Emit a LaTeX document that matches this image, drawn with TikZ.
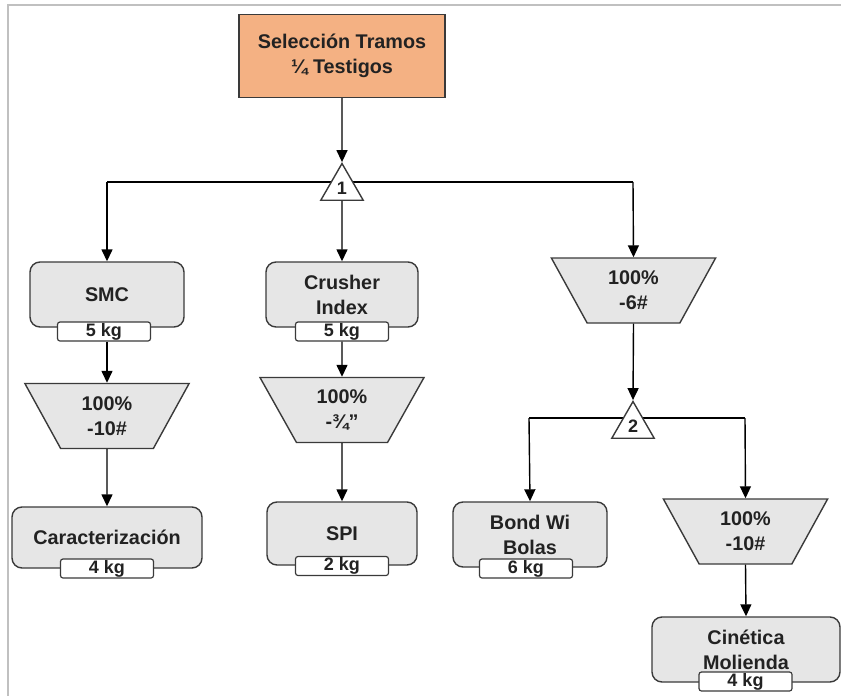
\documentclass[tikz,border=0pt]{standalone}
\usepackage{fontspec}
\setmainfont{Liberation Sans}
\usetikzlibrary{arrows.meta,shapes.geometric,backgrounds}
\definecolor{boxfill}{HTML}{E6E6E6}
\definecolor{boxline}{HTML}{3A3A3A}
\definecolor{headfill}{HTML}{F4B183}
\definecolor{inktext}{HTML}{222222}
\definecolor{framegray}{HTML}{C0C0C0}
\tikzset{
  txt/.style={font=\fontsize{19.8}{25}\selectfont\bfseries, text=inktext, align=center},
  headbox/.style={txt, draw=boxline, line width=1.4pt, fill=headfill,
    minimum width=206pt, minimum height=83pt, inner sep=0pt},
  testbox/.style={txt, draw=boxline, line width=1.4pt, fill=boxfill,
    rounded corners=10pt, minimum height=65pt, inner sep=0pt},
  massbox/.style={draw=boxline, line width=1.2pt, fill=white, rounded corners=2.5pt,
    minimum width=93pt, minimum height=19pt, inner sep=0pt,
    font=\fontsize{18}{18}\selectfont\bfseries, text=inktext},
  sieve/.style={txt, draw=boxline, line width=1.4pt, fill=boxfill, trapezium,
    shape border rotate=180, trapezium left angle=63.4, trapezium right angle=63.4,
    trapezium stretches=true, minimum width=165pt, minimum height=65pt, inner sep=0pt},
  splitter/.style={draw=boxline, line width=1.4pt, fill=white, regular polygon,
    regular polygon sides=3, minimum size=49pt, inner sep=0pt,
    font=\fontsize{18}{18}\selectfont\bfseries, text=inktext},
  link/.style={line width=1.4pt, draw=black},
  flow/.style={link, -{Triangle[length=12pt,width=11pt]}}
}
\begin{document}
\begin{tikzpicture}[x=1pt,y=-1pt]
\useasboundingbox (0,0) rectangle (841,696);
% page frame
\draw[framegray, line width=2pt] (8,696) -- (8,5) -- (841,5);

% head sample
\node[headbox] (head) at (342,56) {Selección Tramos\\¼ Testigos};
\node[splitter] (s1) at (342,188) {1};

% left column
\node[testbox, minimum width=154pt] (smc) at (107,294.5) {SMC};
\node[massbox] (smcm) at (104,331.5) {5 kg};
\node[sieve] (g1) at (107,416) {100\%\\-10\#};
\node[testbox, minimum width=190pt, minimum height=61pt] (car) at (107,537.5) {Caracterización};
\node[massbox] (carm) at (107,568.5) {4 kg};

% middle column
\node[testbox, minimum width=152pt] (ci) at (342,294.5) {Crusher\\Index};
\node[massbox] (cim) at (342,331.5) {5 kg};
\node[sieve] (g2) at (342,410) {100\%\\-¾”};
\node[testbox, minimum width=150pt, minimum height=63pt] (spi) at (342,533.5) {SPI};
\node[massbox] (spim) at (342,566) {2 kg};

% right column
\node[sieve] (g3) at (633.5,290.5) {100\%\\-6\#};
\node[splitter] (s2) at (633,426) {2};
\node[testbox, minimum width=154pt] (bond) at (530,534.5) {Bond Wi\\Bolas};
\node[massbox] (bondm) at (526,568.5) {6 kg};
\node[sieve] (g4) at (745.5,531.5) {100\%\\-10\#};
\node[testbox, minimum width=188pt] (cin) at (746,649.5) {Cinética\\Molienda};
\node[massbox] (cinm) at (745.5,681.5) {4 kg};

% branch points
\coordinate (b1l) at (107,182);
\coordinate (b1r) at (633,182);
\coordinate (b2l) at (529,418);
\coordinate (b2r) at (745,418);

\begin{pgfonlayer}{background}
  \draw[link] (b1l) -- (b1r);
  \draw[link] (b2l) -- (b2r);
\end{pgfonlayer}

\draw[flow] (head.south) -- (s1.north);
\draw[flow] (b1l) -- (smc.north);
\draw[flow] (s1.south) -- (ci.north);
\draw[flow] (b1r) -- (g3.north);
\draw[flow] (g1.north |- smcm.south) -- (g1.north);
\draw[flow] (g1.south) -- (car.north);
\draw[flow] (cim.south) -- (g2.north);
\draw[flow] (g2.south) -- (spi.north);
\draw[flow] (g3.south) -- (s2.north);
\draw[flow] (b2l) -- (bond.north);
\draw[flow] (b2r) -- (g4.north);
\draw[flow] (g4.south) -- (cin.north);
\end{tikzpicture}
\end{document}
